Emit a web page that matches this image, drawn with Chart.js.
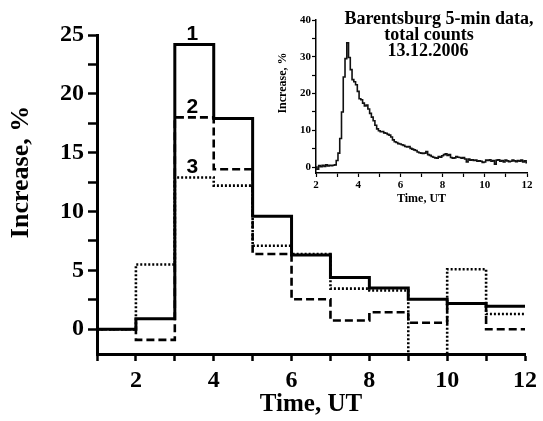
<!DOCTYPE html>
<html lang="en">
<head>
<meta charset="UTF-8">
<title>Increase, % - Barentsburg 13.12.2006</title>
<script src="https://cdn.jsdelivr.net/npm/chart.js"></script>
<style>
    html, body { margin: 0; padding: 0; background: #fff; }
    .wrap { position: relative; width: 543px; height: 421px; }
    #mainChart { position: absolute; left: 0; top: 0; }
    #insetChart { position: absolute; left: 265px; top: 0; }
</style>
</head>
<body>
<div class="wrap">
    <canvas id="mainChart" width="543" height="421"></canvas>
    <canvas id="insetChart" width="278" height="210"></canvas>
</div>
<script>
    // main chart: hourly bins, value for each bin [h, h+1)
    const hourEdges = [1, 2, 3, 4, 5, 6, 7, 8, 9, 10, 11, 12];
    const curve1 = [0, 0.9, 24.2, 17.9, 9.6, 6.3, 4.4, 3.5, 2.55, 2.2, 1.95];
    const curve2 = [0, -0.9, 18.0, 13.6, 6.4, 2.55, 0.75, 1.45, 0.55, 2.2, 0.0];
    const curve3 = [0, 5.5, 12.9, 12.2, 7.1, 6.4, 3.45, 3.3, -3.0, 5.1, 1.3];
    const mainYTicks = [0, 2.5, 5, 7.5, 10, 12.5, 15, 17.5, 20, 22.5, 25];
    const curveTags = ['1', '2', '3'];

    // inset: Barentsburg 5-min data, total counts, 2..12 UT
    const insetStart = 2;
    const insetStepMin = 5;
    const insetValues = [
        0.0, -0.6, 0.4, 0.1, 0.5, 0.2, 0.6, 0.3, 0.5, 0.4, 0.5, 0.6,
        1.8, 3.8, 7.8, 15.0, 24.5, 29.5, 33.8, 29.8, 26.5, 23.8, 23.2, 22.4,
        20.6, 18.6, 18.3, 17.4, 16.6, 16.9, 15.8, 14.6, 13.6, 12.6, 11.4, 10.4,
        9.9, 9.6, 9.7, 9.3, 9.2, 8.9, 8.7, 8.2, 7.4, 6.9, 6.7, 6.4,
        6.3, 6.1, 5.9, 5.6, 5.5, 5.6, 5.1, 4.9, 4.7, 4.5, 4.1, 3.9,
        3.8, 3.7, 3.8, 4.2, 3.4, 3.2, 2.9, 2.7, 2.5, 2.4, 2.9, 2.7,
        3.1, 3.4, 3.6, 3.2, 3.4, 2.6, 2.4, 2.5, 2.9, 2.7, 2.6, 2.4,
        2.6, 2.2, 1.4, 2.2, 1.9, 2.0, 1.8, 1.9, 1.6, 1.7, 1.6, 1.3,
        1.4, 1.9, 1.8, 2.0, 1.6, 1.8, 0.8, 1.9, 2.0, 1.6, 1.8, 1.4,
        1.9, 1.7, 1.5, 1.6, 1.9, 1.7, 1.5, 1.8, 1.6, 1.9, 1.4, 1.7, 1.2
    ];
    const insetYTicks = [0, 5, 10, 15, 20, 25, 30, 35, 40];

    const serif = 'Liberation Serif, Times New Roman, serif';

    function stepPoints(values) {
        const pts = values.map((v, i) => ({ x: hourEdges[i], y: v }));
        pts.push({ x: hourEdges[hourEdges.length - 1], y: values[values.length - 1] });
        return pts;
    }

    const tagPlugin = {
        id: 'curveTags',
        afterDatasetsDraw(chart) {
            const { ctx, scales: { x, y } } = chart;
            const spots = [[3.45, 25.1], [3.45, 18.9], [3.45, 13.8]];
            ctx.save();
            ctx.font = 'bold 21px Liberation Sans, Arial, sans-serif';
            ctx.fillStyle = '#000';
            ctx.textAlign = 'center';
            ctx.textBaseline = 'middle';
            curveTags.forEach((t, i) => {
                ctx.fillText(t, x.getPixelForValue(spots[i][0]), y.getPixelForValue(spots[i][1]));
            });
            // y axis title, sits a bit above the middle of the axis
            ctx.translate(21, 172);
            ctx.rotate(-Math.PI / 2);
            ctx.font = 'bold 26px ' + serif;
            ctx.fillText('Increase, %', 0, 0);
            ctx.restore();
        }
    };

    new Chart(document.getElementById('mainChart'), {
        type: 'line',
        data: {
            datasets: [
                { data: stepPoints(curve3), borderColor: '#000', borderWidth: 2.6, borderDash: [2, 2], stepped: 'before', pointRadius: 0, fill: false },
                { data: stepPoints(curve2), borderColor: '#000', borderWidth: 2.6, borderDash: [8, 4], stepped: 'before', pointRadius: 0, fill: false },
                { data: stepPoints(curve1), borderColor: '#000', borderWidth: 3, stepped: 'before', pointRadius: 0, fill: false }
            ]
        },
        options: {
            responsive: false,
            animation: false,
            layout: { padding: { left: 0, right: 18, top: 35, bottom: 0 } },
            plugins: { legend: { display: false }, tooltip: { enabled: false } },
            scales: {
                x: {
                    type: 'linear', min: 1, max: 12,
                    afterFit: s => { s.height = 67; },
                    ticks: {
                        stepSize: 1,
                        callback: v => (v % 2 === 0 ? v : ''),
                        font: { family: serif, size: 24, weight: 'bold' },
                        color: '#000', padding: 5, maxRotation: 0, autoSkip: false
                    },
                    grid: { drawOnChartArea: false, tickLength: 7, tickWidth: 2.5, color: '#000' },
                    border: { width: 3, color: '#000' },
                    title: { display: true, text: 'Time, UT', color: '#000', font: { family: serif, size: 25, weight: 'bold' }, padding: { top: 0, bottom: 1 } }
                },
                y: {
                    min: -2.1, max: 25,
                    afterBuildTicks: s => { s.ticks = mainYTicks.map(v => ({ value: v })); },
                    afterFit: s => { s.width = 97; },
                    ticks: {
                        callback: v => (v % 5 === 0 ? v : ''),
                        font: { family: serif, size: 24, weight: 'bold' },
                        color: '#000', padding: 4
                    },
                    grid: { drawOnChartArea: false, tickLength: 9, tickWidth: 2.5, color: '#000' },
                    border: { width: 3, color: '#000' }
                }
            }
        },
        plugins: [tagPlugin]
    });

    const insetText = {
        id: 'insetText',
        afterDraw(chart) {
            const { ctx } = chart;
            ctx.save();
            ctx.fillStyle = '#000';
            ctx.textAlign = 'center';
            ctx.textBaseline = 'middle';
            ctx.font = 'bold 18px ' + serif;
            ctx.fillText('Barentsburg 5-min data,', 174, 19);
            ctx.fillText('total counts', 164, 35);
            ctx.fillText('13.12.2006', 163, 51);
            ctx.translate(18, 83);
            ctx.rotate(-Math.PI / 2);
            ctx.font = 'bold 12px ' + serif;
            ctx.fillText('Increase, %', 0, 0);
            ctx.restore();
        }
    };

    new Chart(document.getElementById('insetChart'), {
        type: 'line',
        data: {
            datasets: [{
                data: insetValues.map((v, i) => ({ x: insetStart + i * insetStepMin / 60, y: v })),
                borderColor: '#111', borderWidth: 1.6, stepped: 'middle', pointRadius: 0, fill: false
            }]
        },
        options: {
            responsive: false,
            animation: false,
            layout: { padding: { left: 0, right: 16, top: 20, bottom: 0 } },
            plugins: { legend: { display: false }, tooltip: { enabled: false } },
            scales: {
                x: {
                    type: 'linear', min: 2, max: 12,
                    afterFit: s => { s.height = 37; },
                    ticks: {
                        stepSize: 1,
                        callback: v => (v % 2 === 0 ? v : ''),
                        font: { family: serif, size: 11, weight: 'bold' },
                        color: '#000', padding: 2, maxRotation: 0, autoSkip: false
                    },
                    grid: { drawOnChartArea: false, tickLength: 4, tickWidth: 1.2, color: '#000' },
                    border: { width: 1.5, color: '#000' },
                    title: { display: true, text: 'Time, UT', color: '#000', font: { family: serif, size: 12, weight: 'bold' }, padding: { top: 0, bottom: 4 } }
                },
                y: {
                    min: -1.6, max: 40,
                    afterBuildTicks: s => { s.ticks = insetYTicks.map(v => ({ value: v })); },
                    afterFit: s => { s.width = 51; },
                    ticks: {
                        callback: v => (v % 10 === 0 ? v : ''),
                        font: { family: serif, size: 11, weight: 'bold' },
                        color: '#000', padding: 1
                    },
                    grid: { drawOnChartArea: false, tickLength: 4, tickWidth: 1.2, color: '#000' },
                    border: { width: 1.5, color: '#000' }
                }
            }
        },
        plugins: [insetText]
    });
</script>
</body>
</html>
